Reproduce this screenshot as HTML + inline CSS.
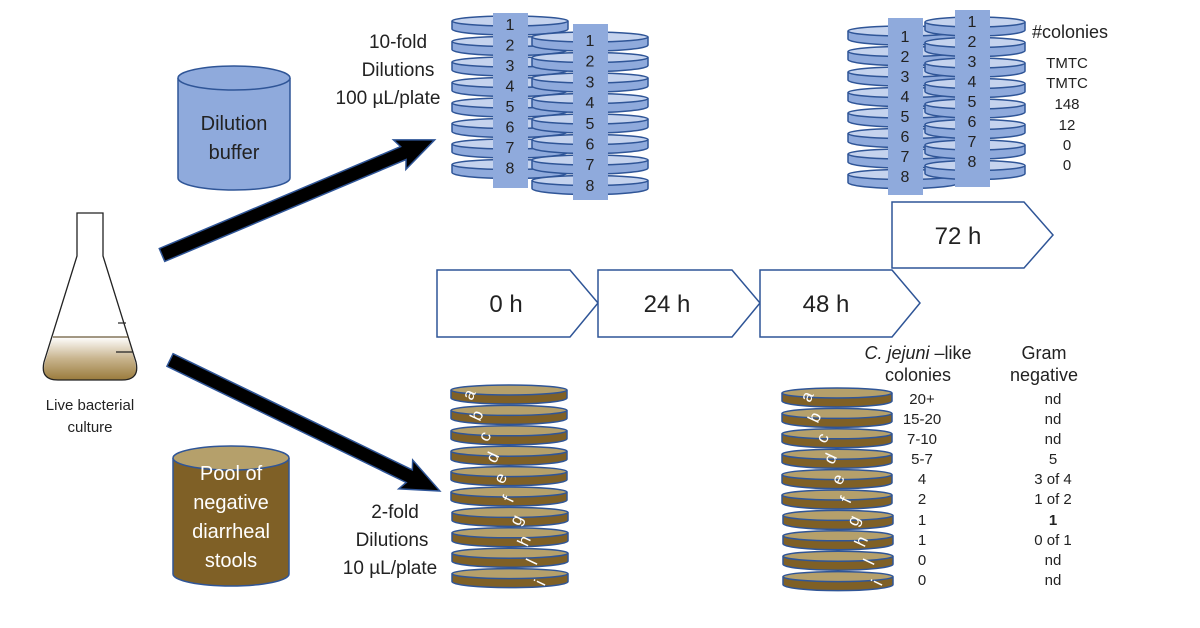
<!DOCTYPE html>
<html><head><meta charset="utf-8"><style>
html,body{margin:0;padding:0;background:#fff;}
svg{display:block;font-family:"Liberation Sans",sans-serif;}
.t{font-family:"Liberation Sans",sans-serif;fill:#222;}
</style></head><body>
<svg id="s" width="1200" height="628" viewBox="0 0 1200 628" xmlns="http://www.w3.org/2000/svg">
<defs>
<linearGradient id="liq" x1="0" y1="0" x2="0" y2="1">
<stop offset="0" stop-color="#fff"/><stop offset="0.5" stop-color="#c8b48e"/><stop offset="1" stop-color="#9a7b3c"/>
</linearGradient>
</defs>
<g id="shapes"></g>
<!-- flask -->
<path d="M53,337 L128,337 L135,362 Q140,380 122,380 L58,380 Q40,380 45,362 Z" fill="url(#liq)"/>
<path d="M77,213 L103,213 L103,256 L136,362 Q140,380 122,380 L58,380 Q40,380 44,362 L77,256 Z" fill="none" stroke="#222" stroke-width="1.3"/>
<line x1="53" y1="337" x2="128" y2="337" stroke="#6b5a3a" stroke-width="1.3"/>
<line x1="118" y1="323" x2="126" y2="323" stroke="#222" stroke-width="1.2"/>
<line x1="116" y1="352" x2="133" y2="352" stroke="#222" stroke-width="1.2"/>
<text class="t" x="90" y="410" font-size="15" text-anchor="middle">Live bacterial</text>
<text class="t" x="90" y="432" font-size="15" text-anchor="middle">culture</text>
<!-- cylinders -->
<path d="M178,78 L178,178 A56,12 0 0 0 290,178 L290,78" fill="#8faadc" stroke="#2f5597" stroke-width="1.5"/>
<ellipse cx="234" cy="78" rx="56" ry="12" fill="#8faadc" stroke="#2f5597" stroke-width="1.5"/>
<text class="t" x="234" y="130" font-size="20" text-anchor="middle">Dilution</text>
<text class="t" x="234" y="159" font-size="20" text-anchor="middle">buffer</text>
<path d="M173,458 L173,574 A58,12 0 0 0 289,574 L289,458" fill="#7f6026" stroke="#2f5597" stroke-width="1.5"/>
<ellipse cx="231" cy="458" rx="58" ry="12" fill="#b5a06b" stroke="#2f5597" stroke-width="1.5"/>
<g font-size="20" fill="#fff" text-anchor="middle" font-family="Liberation Sans,sans-serif">
<text x="231" y="480">Pool of</text><text x="231" y="509">negative</text><text x="231" y="538">diarrheal</text><text x="231" y="567">stools</text></g>
<!-- arrows -->
<g transform="translate(162,255) rotate(-22.9)">
<polygon points="0,-7 262,-7 258,-16 296,0 258,16 262,7 0,7" fill="#000" stroke="#2f5597" stroke-width="1.5"/></g>
<g transform="translate(170,360) rotate(25.9)">
<polygon points="0,-7 266,-7 262,-16 300,0 262,16 266,7 0,7" fill="#000" stroke="#2f5597" stroke-width="1.5"/></g>
<!-- left texts -->
<g class="t" font-size="19" text-anchor="middle">
<text x="398" y="48">10-fold</text><text x="398" y="76">Dilutions</text><text x="388" y="104">100 µL/plate</text>
<text x="395" y="518">2-fold</text><text x="392" y="546">Dilutions</text><text x="390" y="574">10 µL/plate</text></g>
<!-- time arrows -->
<g fill="#fff" stroke="#2f5597" stroke-width="1.5">
<polygon points="437,270 570,270 598,303 570,337 437,337"/>
<polygon points="598,270 732,270 760,303 732,337 598,337"/>
<polygon points="760,270 892,270 920,303 892,337 760,337"/>
<polygon points="892,202 1024,202 1053,235 1024,268 892,268"/>
</g>
<g class="t" font-size="24" text-anchor="middle" fill="#111">
<text x="506" y="312">0 h</text><text x="667" y="312">24 h</text><text x="826" y="312">48 h</text><text x="958" y="244">72 h</text></g>
<!-- numbers in top plates -->
<g id="labels" class="t" font-size="16" text-anchor="middle"></g>
<text class="t" x="1032" y="38" font-size="18">#colonies</text>
<g class="t" font-size="15" text-anchor="middle">
<text x="1067" y="68">TMTC</text><text x="1067" y="88">TMTC</text><text x="1067" y="109">148</text><text x="1067" y="130">12</text><text x="1067" y="150">0</text><text x="1067" y="170">0</text>
</g>
<g class="t" font-size="18" text-anchor="middle">
<text x="918" y="359"><tspan font-style="italic">C. jejuni</tspan> –like</text><text x="918" y="381">colonies</text>
<text x="1044" y="359">Gram</text><text x="1044" y="381">negative</text></g>
<g class="t" font-size="15" text-anchor="middle">
<text x="922" y="404">20+</text><text x="922" y="424">15-20</text><text x="922" y="444">7-10</text><text x="922" y="464">5-7</text><text x="922" y="484">4</text><text x="922" y="504">2</text><text x="922" y="525">1</text><text x="922" y="545">1</text><text x="922" y="565">0</text><text x="922" y="585">0</text>
<text x="1053" y="404">nd</text><text x="1053" y="424">nd</text><text x="1053" y="444">nd</text><text x="1053" y="464">5</text><text x="1053" y="484">3 of 4</text><text x="1053" y="504">1 of 2</text><text x="1053" y="525" font-weight="bold">1</text><text x="1053" y="545">0 of 1</text><text x="1053" y="565">nd</text><text x="1053" y="585">nd</text>
</g>
<g id="letters"></g>
</svg>
<script>
var NS="http://www.w3.org/2000/svg",sh=document.getElementById("shapes");
function el(t,a,p){var e=document.createElementNS(NS,t);for(var k in a)e.setAttribute(k,a[k]);(p||sh).appendChild(e);return e;}
function plate(cx,y,rx,top,side,h){
 el("path",{d:"M"+(cx-rx)+","+y+" L"+(cx-rx)+","+(y+h)+" A"+rx+",6 0 0 0 "+(cx+rx)+","+(y+h)+" L"+(cx+rx)+","+y,fill:side,stroke:"#2f5597","stroke-width":1.5});
 el("ellipse",{cx:cx,cy:y,rx:rx,ry:5,fill:top,stroke:"#2f5597","stroke-width":1.5});
}
function blueStack(cx,y0,rx,bx,by,bh){
 for(var i=0;i<8;i++)plate(cx,y0+i*20.5,rx,"#c5d3ee","#8faadc",8);
 el("rect",{x:bx,y:by,width:35,height:bh,fill:"#8faadc"});
}
blueStack(510,21,58,493,13,175);
blueStack(590,37,58,573,24,176);
blueStack(904,31,56,888,18,177);
blueStack(975,22,50,955,10,177);
// labels
var lb=document.getElementById("labels");
function nums(x,y0,st){for(var i=0;i<8;i++){var t=el("text",{x:x,y:y0+i*st},lb);t.textContent=String(i+1);}}
nums(510,30,20.5);nums(590,46,20.7);nums(905,42,20);nums(972,27,20);
function brownStack(cx,y0,rx){for(var i=0;i<10;i++)plate(cx+(i>=6?1:0),y0+i*20.4,rx,"#b5a06b","#7f6026",8);}
brownStack(509,390,58);brownStack(837,393,55);
var L="abcdefghii".split(""),lg=document.getElementById("letters");
function letters(x0,y0,x1,y1){for(var i=0;i<10;i++){var x=x0+(x1-x0)*i/9,y=y0+(y1-y0)*i/9;
 var t=el("text",{x:x,y:y,"font-size":17,fill:"#fff","text-anchor":"middle","font-family":"Liberation Sans,sans-serif",transform:"rotate(-65 "+x+" "+y+")"},lg);t.textContent=i==9?"i":(i==8?"l":L[i]);}}
letters(474,397,545,585);letters(812,399,882,585);
</script>
</body></html>
